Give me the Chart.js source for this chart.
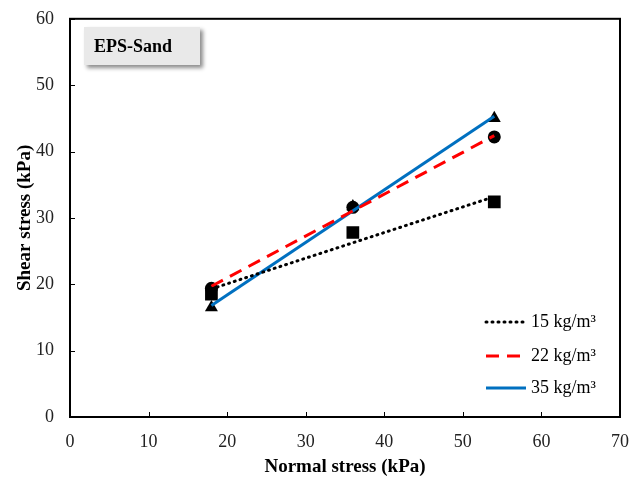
<!DOCTYPE html>
<html>
<head>
<meta charset="utf-8">
<script src="https://cdn.jsdelivr.net/npm/chart.js@4/dist/chart.umd.min.js"></script>
<style>
  html, body { margin: 0; padding: 0; background: #fff; }
  #wrap { width: 630px; height: 479px; }
</style>
</head>
<body>
<div id="wrap"><canvas id="chart" width="630" height="479"></canvas></div>
<script>
// normal stress levels used in the shear tests (kPa)
const normalStress = [18, 36, 54];

// measured peak shear stress (kPa) per EPS density
const shear15 = [18.5, 27.8, 32.4];
const shear22 = [19.4, 31.6, 42.2];
const shear35 = [16.5, 31.7, 45.0];

// trend line end points (x = 18 and x = 54)
const trendX = [18, 54];
const trend15 = [19.3, 33.2];
const trend22 = [19.7, 42.4];
const trend35 = [16.8, 45.3];

const labels = ["15 kg/m³", "22 kg/m³", "35 kg/m³"];
const xTicks = [0, 10, 20, 30, 40, 50, 60, 70];
const yTicks = [0, 10, 20, 30, 40, 50, 60];

const serif = "'Liberation Serif', 'Times New Roman', serif";

function toPoints(xs, ys) {
  return xs.map((x, i) => ({ x: x, y: ys[i] }));
}

function markerSet(ys, style, radius) {
  return {
    data: toPoints(normalStress, ys),
    showLine: false,
    pointStyle: style,
    pointRadius: radius,
    pointBackgroundColor: "#000",
    pointBorderColor: "#000",
    pointBorderWidth: 0,
    order: 2,
    isMarker: true,
  };
}

function trendSet(label, ys, color, dash, cap) {
  return {
    label: label,
    data: toPoints(trendX, ys),
    showLine: true,
    borderColor: color,
    borderWidth: 3,
    borderDash: dash,
    borderCapStyle: cap,
    pointRadius: 0,
    order: 1,
  };
}

// frame, inward ticks, title box and legend
const decorations = {
  id: "decorations",
  afterDraw(chart) {
    const ctx = chart.ctx;
    const area = chart.chartArea;
    const xs = chart.scales.x;
    const ys = chart.scales.y;

    ctx.save();
    ctx.strokeStyle = "#000";
    ctx.lineWidth = 2;
    ctx.strokeRect(area.left, area.top, area.right - area.left, area.bottom - area.top);

    ctx.lineWidth = 1;
    ctx.beginPath();
    xTicks.forEach((v) => {
      const px = Math.round(xs.getPixelForValue(v)) + 0.5;
      ctx.moveTo(px, area.bottom);
      ctx.lineTo(px, area.bottom - 5);
    });
    yTicks.forEach((v) => {
      const py = Math.round(ys.getPixelForValue(v)) + 0.5;
      ctx.moveTo(area.left, py);
      ctx.lineTo(area.left + 5, py);
    });
    ctx.stroke();

    // "EPS-Sand" box with drop shadow
    ctx.save();
    ctx.shadowColor = "rgba(0,0,0,0.45)";
    ctx.shadowBlur = 4;
    ctx.shadowOffsetX = 3;
    ctx.shadowOffsetY = 3;
    ctx.fillStyle = "#e9e9e9";
    ctx.fillRect(84, 27, 116, 38);
    ctx.restore();
    ctx.fillStyle = "#000";
    ctx.font = "bold 18px " + serif;
    ctx.textBaseline = "middle";
    ctx.textAlign = "left";
    ctx.fillText("EPS-Sand", 94, 47);

    // legend (line samples only)
    const rows = [322, 356, 388];
    const trends = chart.data.datasets.filter((d) => !d.isMarker);
    ctx.font = "18px " + serif;
    trends.forEach((d, i) => {
      const y = rows[i];
      ctx.beginPath();
      ctx.strokeStyle = d.borderColor;
      ctx.lineWidth = 3;
      ctx.lineCap = d.borderCapStyle;
      ctx.setLineDash(d.borderDash);
      ctx.moveTo(486, y);
      ctx.lineTo(526, y);
      ctx.stroke();
      ctx.setLineDash([]);
      ctx.fillStyle = "#000";
      ctx.fillText(d.label, 531, y);
    });
    ctx.restore();
  },
};

new Chart(document.getElementById("chart"), {
  type: "scatter",
  data: {
    datasets: [
      markerSet(shear15, "rect", 9),
      markerSet(shear22, "circle", 6.5),
      markerSet(shear35, "triangle", 7.5),
      trendSet(labels[0], trend15, "#000", [1, 5], "round"),
      trendSet(labels[1], trend22, "#ff0000", [13, 8], "butt"),
      trendSet(labels[2], trend35, "#0070c0", [], "butt"),
    ],
  },
  options: {
    responsive: false,
    animation: false,
    layout: { padding: { top: 16, right: 10, left: 0, bottom: 0 } },
    plugins: {
      legend: { display: false },
      tooltip: { enabled: false },
    },
    scales: {
      x: {
        type: "linear",
        min: 0,
        max: 70,
        afterBuildTicks: (s) => { s.ticks = xTicks.map((v) => ({ value: v })); },
        afterFit: (s) => {
          s.height = 62;
          s.paddingLeft = 0;
          s.paddingRight = 0;
        },
        grid: { display: false },
        border: { display: false },
        ticks: {
          color: "#222",
          padding: 6,
          font: { family: serif, size: 18 },
        },
        title: {
          display: true,
          text: "Normal stress (kPa)",
          color: "#000",
          padding: { top: 4, bottom: 1 },
          font: { family: serif, size: 19, weight: "bold" },
        },
      },
      y: {
        type: "linear",
        min: 0,
        max: 60,
        afterBuildTicks: (s) => { s.ticks = yTicks.map((v) => ({ value: v })); },
        afterFit: (s) => { s.width = 70; },
        grid: { display: false },
        border: { display: false },
        ticks: {
          color: "#222",
          padding: 8,
          font: { family: serif, size: 18 },
        },
        title: {
          display: true,
          text: "Shear stress (kPa)",
          color: "#000",
          padding: { top: 14 },
          font: { family: serif, size: 19, weight: "bold" },
        },
      },
    },
  },
  plugins: [decorations],
});
</script>
</body>
</html>
